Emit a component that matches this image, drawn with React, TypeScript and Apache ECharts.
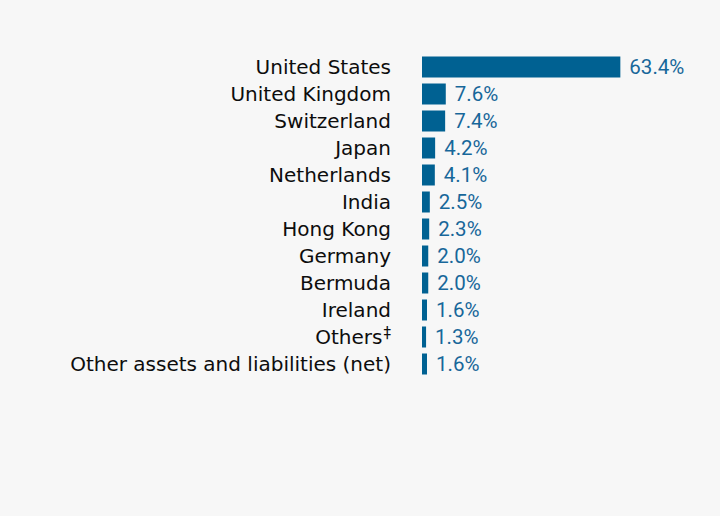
import React, { useEffect, useRef } from "react";
import * as echarts from "echarts";

const categories = [
  "United States",
  "United Kingdom",
  "Switzerland",
  "Japan",
  "Netherlands",
  "India",
  "Hong Kong",
  "Germany",
  "Bermuda",
  "Ireland",
  "Others‡",
  "Other assets and liabilities (net)",
];
const values = [63.4, 7.6, 7.4, 4.2, 4.1, 2.5, 2.3, 2.0, 2.0, 1.6, 1.3, 1.6];

const BAR = "#006192";
const LABEL = "#17679a";

export default function App() {
  const ref = useRef<HTMLDivElement>(null);
  useEffect(() => {
    document.body.style.margin = "0";
    const chart = echarts.init(ref.current!, null, { renderer: "svg" });
    chart.setOption({
      animation: false,
      backgroundColor: "#f7f7f7",
      grid: { left: 422, right: 79, top: 53.5, bottom: 138.5, containLabel: false },
      xAxis: {
        type: "value",
        min: 0,
        max: 70,
        show: false,
      },
      yAxis: {
        type: "category",
        inverse: true,
        data: categories,
        axisLine: { show: false },
        axisTick: { show: false },
        splitLine: { show: false },
        axisLabel: {
          margin: 31,
          color: "#0d0d0d",
          fontFamily: "DejaVu Sans",
          fontSize: 20,
          formatter: (v: string) =>
            v.endsWith("‡") ? `${v.slice(0, -1)}{sup|‡}` : v,
          rich: {
            sup: {
              fontSize: 15,
              fontFamily: "DejaVu Sans",
              color: "#0d0d0d",
              verticalAlign: "top",
              padding: [0, 0, 8, 1],
            },
          },
        },
      },
      series: [
        {
          type: "bar",
          data: values,
          barWidth: 21,
          itemStyle: { color: BAR },
          label: {
            show: true,
            position: "right",
            distance: 9,
            color: LABEL,
            fontFamily: "Liberation Sans Narrow, Roboto, sans-serif",
            fontSize: 20.5,
            formatter: (p: any) => `${Number(p.value).toFixed(1)}%`,
          },
        },
      ],
    });
    return () => chart.dispose();
  }, []);
  return <div ref={ref} style={{ width: 720, height: 516 }} />;
}
